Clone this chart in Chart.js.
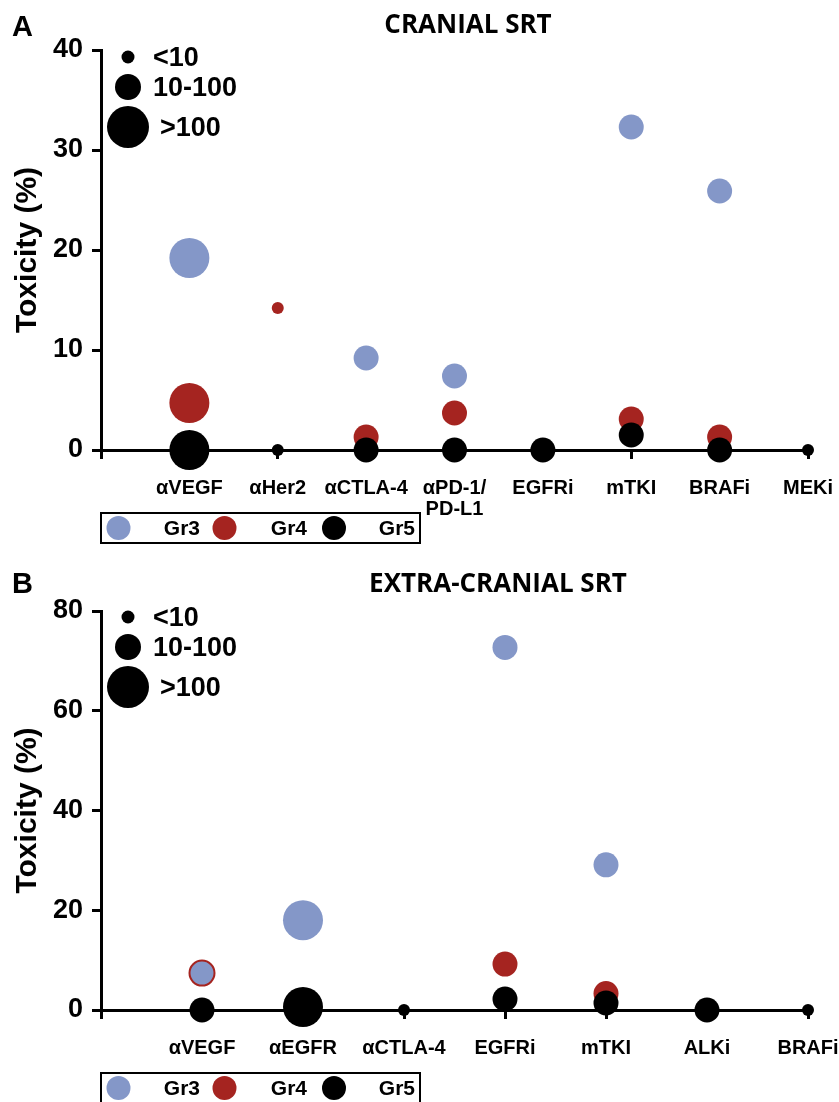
<!DOCTYPE html>
<html><head><meta charset="utf-8">
<script src="https://cdn.jsdelivr.net/npm/chart.js@4"></script>
<style>
html,body{margin:0;padding:0;background:#fff;width:839px;height:1102px;overflow:hidden}
canvas{position:absolute;left:0;display:block}
</style></head><body>
<canvas id="ca" width="839" height="560" style="top:0"></canvas>
<canvas id="cb" width="839" height="542" style="top:560px"></canvas>
<script>
// ---- Panel A: cranial SRT ----
const catsA = ['αVEGF', 'αHer2', 'αCTLA-4', ['αPD-1/', 'PD-L1'], 'EGFRi', 'mTKI', 'BRAFi', 'MEKi'];
const gr3A = [19.2, null, 9.2, 7.4, null, 32.3, 25.9, null];
const gr4A = [4.7, 14.2, 1.3, 3.7, null, 3.1, 1.3, null];
const gr5A = [0, 0, 0, 0, 0, 1.5, 0, 0];
const binA = [2, 0, 1, 1, 1, 1, 1, 0]; // patients: 0 = <10, 1 = 10-100, 2 = >100

// ---- Panel B: extra-cranial SRT ----
const catsB = ['αVEGF', 'αEGFR', 'αCTLA-4', 'EGFRi', 'mTKI', 'ALKi', 'BRAFi'];
const gr3B = [7.4, 18.0, null, 72.7, 29.1, null, null];
const gr4B = [7.4, null, null, 9.2, 3.3, null, null];
const gr5B = [0, 0.6, 0, 2.2, 1.4, 0, 0];
const binB = [1, 2, 0, 1, 1, 1, 0];

const sizeLabels = ['<10', '10-100', '>100'];
const gradeLabels = ['Gr3', 'Gr4', 'Gr5'];

const COLORS = ['#8497c8', '#a52420', '#000000'];
const RADII = [6, 12.5, 20];
const LF = '"Liberation Sans", Arial, sans-serif';

const deco = {
  id: 'deco',
  afterDraw(chart, args, o) {
    const ctx = chart.ctx;
    ctx.save();
    ctx.fillStyle = '#000';
    ctx.textBaseline = 'alphabetic';
    // panel letter
    ctx.font = 'bold 29px ' + LF;
    ctx.textAlign = 'left';
    ctx.fillText(o.letter, 12, o.letterY);
    // title
    ctx.font = 'bold 26px "Open Sans", sans-serif';
    ctx.textAlign = 'center';
    ctx.fillText(o.title, o.titleX, o.titleY);
    // size legend
    const sy = [57, 87, 127];
    const lx = [153, 153, 160];
    ctx.font = 'bold 27px ' + LF;
    ctx.textAlign = 'left';
    ctx.textBaseline = 'middle';
    for (let i = 0; i < 3; i++) {
      ctx.beginPath();
      ctx.arc(128, sy[i], [6.5, 13, 21][i], 0, Math.PI * 2);
      ctx.fillStyle = '#000';
      ctx.fill();
      ctx.fillText(sizeLabels[i], lx[i], sy[i] + 2);
    }
    // grade legend box
    ctx.lineWidth = 2;
    ctx.strokeStyle = '#000';
    ctx.strokeRect(101, 513, 319, 30);
    const cx = [118.5, 224.5, 334];
    const tx = [200, 307, 415];
    ctx.font = 'bold 21px ' + LF;
    ctx.textAlign = 'right';
    for (let i = 0; i < 3; i++) {
      ctx.beginPath();
      ctx.arc(cx[i], 528, 12, 0, Math.PI * 2);
      ctx.fillStyle = COLORS[i];
      ctx.fill();
      ctx.fillStyle = '#000';
      ctx.fillText(gradeLabels[i], tx[i], 529);
    }
    ctx.restore();
  }
};

function makeChart(id, H, cats, series, bins, ymax, ystep, topPad, o) {
  const pts = v => v.map((y, i) => ({ x: i + 1, y: y })).filter(p => p.y !== null);
  const rad = c => RADII[bins[c.raw.x - 1]];
  const ds = series.map((s, k) => ({
    label: gradeLabels[k],
    data: pts(s),
    backgroundColor: COLORS[k],
    borderColor: k === 0
      ? (c => (series[1][c.raw.x - 1] === c.raw.y ? COLORS[1] : COLORS[0]))
      : COLORS[k],
    borderWidth: k === 0 ? (c => (series[1][c.raw.x - 1] === c.raw.y ? 2 : 0)) : 0,
    pointRadius: rad,
    pointHoverRadius: rad,
    clip: false,
    order: [1, 2, 0][k]
  }));
  return new Chart(document.getElementById(id), {
    type: 'scatter',
    data: { datasets: ds },
    options: {
      responsive: false,
      animation: false,
      events: [],
      layout: { padding: { left: 0, right: 31, top: topPad, bottom: 0 } },
      plugins: { legend: { display: false }, tooltip: { enabled: false }, deco: o },
      scales: {
        x: {
          type: 'linear', min: 0, max: cats.length,
          afterFit: s => { s.height = H - 450; s.paddingLeft = 0; s.paddingRight = 0; },
          border: { color: '#000', width: 3 },
          grid: { drawOnChartArea: false, drawTicks: true, tickLength: 9, tickWidth: 3, tickColor: '#000' },
          ticks: {
            stepSize: 1, autoSkip: false, maxRotation: 0, padding: 19,
            color: '#000', font: { family: LF, weight: 'bold', size: 20, lineHeight: 1.05 },
            callback: v => (v >= 1 ? cats[v - 1] : '')
          }
        },
        y: {
          min: 0, max: ymax,
          afterFit: s => { s.width = 101; s.paddingTop = 0; s.paddingBottom = 0; },
          border: { color: '#000', width: 3 },
          grid: { drawOnChartArea: false, drawTicks: true, tickLength: 9, tickWidth: 3, tickColor: '#000' },
          ticks: { stepSize: ystep, padding: 9, color: '#000', font: { family: LF, weight: 'bold', size: 27 } },
          title: {
            display: true, text: 'Toxicity (%)', color: '#000',
            font: { family: LF, weight: 'bold', size: 30, lineHeight: 1 },
            padding: { top: 13, bottom: 0 }
          }
        }
      }
    },
    plugins: [deco]
  });
}

makeChart('ca', 560, catsA, [gr3A, gr4A, gr5A], binA, 40, 10, 50,
  { letter: 'A', letterY: 36, title: 'CRANIAL SRT', titleX: 468, titleY: 33 });
makeChart('cb', 542, catsB, [gr3B, gr4B, gr5B], binB, 80, 20, 51,
  { letter: 'B', letterY: 33, title: 'EXTRA-CRANIAL SRT', titleX: 498, titleY: 32 });
</script>
</body></html>
